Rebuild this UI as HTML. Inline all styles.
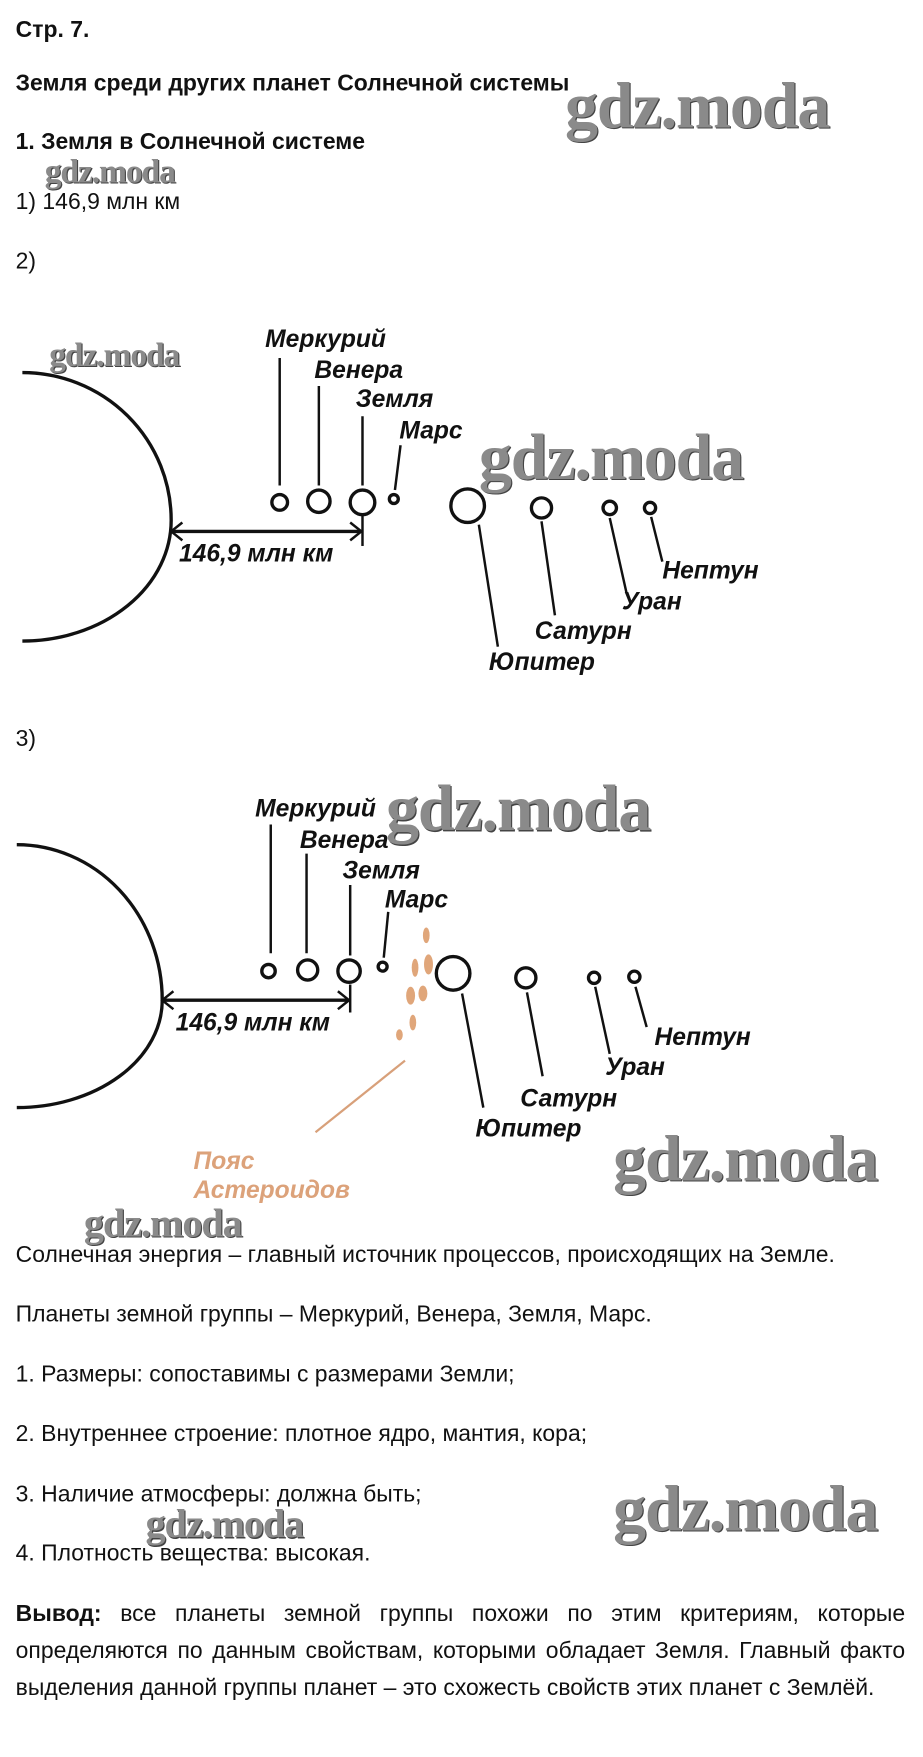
<!DOCTYPE html>
<html><head><meta charset="utf-8"><style>
body{margin:0;width:923px;height:1756px;background:#fff;position:relative;overflow:hidden;font-family:"Liberation Sans",Arial,sans-serif;color:#111}
#c{position:absolute;left:0;top:0;width:825px;height:1570px;transform:scale(1.1188);transform-origin:0 0}
.t{position:absolute;left:14px;font-size:20.5px;line-height:22px;white-space:nowrap}
.b{font-weight:bold}
.j{position:absolute;left:14px;width:795px;font-size:20.5px;line-height:33px;text-align:justify;text-align-last:left}
.wm{position:absolute;font-family:"Liberation Serif",serif;font-weight:bold;color:#8a8a8a;white-space:nowrap;letter-spacing:-1px;text-shadow:1px 1px 0 #444}
svg{position:absolute;left:0;top:0}
</style></head><body><div id="c">
<div class="t b" style="top:16px">Стр. 7.</div>
<div class="t b" style="top:64px">Земля среди других планет Солнечной системы</div>
<div class="t b" style="top:116px">1. Земля в Солнечной системе</div>
<div class="t" style="top:170px">1) 146,9 млн км</div>
<div class="t" style="top:223px">2)</div>
<div class="t" style="top:650px">3)</div>
<div class="t" style="top:1111px">Солнечная энергия – главный источник процессов, происходящих на Земле.</div>
<div class="t" style="top:1164px">Планеты земной группы – Меркурий, Венера, Земля, Марс.</div>
<div class="t" style="top:1218px">1. Размеры: сопоставимы с размерами Земли;</div>
<div class="t" style="top:1271px">2. Внутреннее строение: плотное ядро, мантия, кора;</div>
<div class="t" style="top:1325px">3. Наличие атмосферы: должна быть;</div>
<div class="t" style="top:1378px">4. Плотность вещества: высокая.</div>
<div class="j" style="top:1426px"><b>Вывод:</b> все планеты земной группы похожи по этим критериям, которые определяются по данным свойствам, которыми обладает Земля. Главный факто выделения данной группы планет – это схожесть свойств этих планет с Землёй.</div>

<svg width="825" height="1570" viewBox="0 0 825 1570">
<g fill="none" stroke="#111" stroke-width="3">
<path d="M20,333 A133,132 0 0 1 153,465 A133,108 0 0 1 20,573"/>
<circle cx="250" cy="449" r="7"/><circle cx="285" cy="448" r="10"/><circle cx="324" cy="449" r="11"/><circle cx="352" cy="446" r="4"/>
<circle cx="418" cy="452" r="15"/><circle cx="484" cy="454" r="9"/><circle cx="545" cy="454" r="6"/><circle cx="581" cy="454" r="5"/>
</g>
<g stroke="#111" stroke-width="2.2" fill="none">
<line x1="250" y1="320" x2="250" y2="434"/><line x1="285" y1="345" x2="285" y2="434"/><line x1="324" y1="372" x2="324" y2="434"/><line x1="358" y1="398" x2="353" y2="438"/>
<line x1="324" y1="461" x2="324" y2="488"/><line x1="153" y1="475" x2="323" y2="475" stroke-width="3"/>
<path d="M163,467 L153,475 L163,483 M313,467 L323,475 L313,483"/>
<line x1="428" y1="469" x2="445" y2="578"/><line x1="484" y1="466" x2="496" y2="550"/><line x1="545" y1="463" x2="560" y2="530"/><line x1="582" y1="462" x2="592" y2="502"/>
</g>
<g font-family="Liberation Sans,Arial,sans-serif" font-weight="bold" font-style="italic" font-size="22" fill="#111">
<text x="237" y="310">Меркурий</text><text x="281" y="338">Венера</text><text x="318" y="364">Земля</text><text x="357" y="392">Марс</text>
<text x="160" y="502">146,9 млн км</text>
<text x="437" y="599">Юпитер</text><text x="478" y="571">Сатурн</text><text x="556" y="545">Уран</text><text x="592" y="517">Нептун</text>
</g>

<g fill="none" stroke="#111" stroke-width="3">
<path d="M15,755 A130,139 0 0 1 145,894 A130,96 0 0 1 15,990"/>
<circle cx="240" cy="868" r="6"/><circle cx="275" cy="867" r="9"/><circle cx="312" cy="868" r="10"/><circle cx="342" cy="864" r="4"/>
<circle cx="405" cy="870" r="15"/><circle cx="470" cy="874" r="9"/><circle cx="531" cy="874" r="5"/><circle cx="567" cy="873" r="5"/>
</g>
<g stroke="#111" stroke-width="2.2" fill="none">
<line x1="242" y1="737" x2="242" y2="852"/><line x1="274" y1="763" x2="274" y2="852"/><line x1="313" y1="791" x2="313" y2="854"/><line x1="347" y1="815" x2="343" y2="856"/>
<line x1="313" y1="880" x2="313" y2="905"/><line x1="145" y1="894" x2="312" y2="894" stroke-width="3"/>
<path d="M155,886 L145,894 L155,902 M302,886 L312,894 L302,902"/>
<line x1="413" y1="888" x2="432" y2="990"/><line x1="471" y1="887" x2="485" y2="962"/><line x1="532" y1="882" x2="545" y2="942"/><line x1="568" y1="882" x2="578" y2="918"/>
</g>
<g fill="#e0a67a">
<ellipse cx="381" cy="836" rx="3" ry="7"/><ellipse cx="371" cy="865" rx="3" ry="8"/><ellipse cx="383" cy="862" rx="4" ry="9"/>
<ellipse cx="367" cy="890" rx="4" ry="8"/><ellipse cx="378" cy="888" rx="4" ry="7"/><ellipse cx="369" cy="914" rx="3" ry="7"/><ellipse cx="357" cy="925" rx="3" ry="5"/>
</g>
<line x1="362" y1="948" x2="282" y2="1012" stroke="#d8a07a" stroke-width="2"/>
<g font-family="Liberation Sans,Arial,sans-serif" font-weight="bold" font-style="italic" font-size="22" fill="#111">
<text x="228" y="730">Меркурий</text><text x="268" y="758">Венера</text><text x="306" y="785">Земля</text><text x="344" y="811">Марс</text>
<text x="157" y="921">146,9 млн км</text>
<text x="425" y="1016">Юпитер</text><text x="465" y="989">Сатурн</text><text x="541" y="961">Уран</text><text x="585" y="934">Нептун</text>
<text x="173" y="1045" fill="#dca27a">Пояс</text><text x="173" y="1071" fill="#dca27a">Астероидов</text>
</g>
</svg>

<div class="wm" style="left:505px;top:60px;font-size:59px">gdz.moda</div>
<div class="wm" style="left:40px;top:137px;font-size:30px">gdz.moda</div>
<div class="wm" style="left:44px;top:301px;font-size:30px">gdz.moda</div>
<div class="wm" style="left:428px;top:374px;font-size:59px">gdz.moda</div>
<div class="wm" style="left:345px;top:688px;font-size:59px">gdz.moda</div>
<div class="wm" style="left:548px;top:1001px;font-size:59px">gdz.moda</div>
<div class="wm" style="left:75px;top:1072px;font-size:36px">gdz.moda</div>
<div class="wm" style="left:548px;top:1314px;font-size:59px">gdz.moda</div>
<div class="wm" style="left:130px;top:1341px;font-size:36px">gdz.moda</div>
</div></body></html>
